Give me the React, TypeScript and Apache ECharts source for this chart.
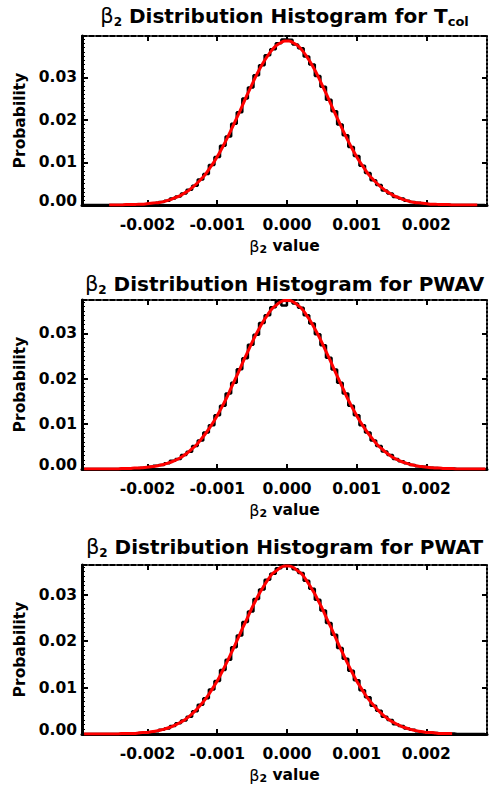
import React, { useEffect, useRef } from 'react';
import * as echarts from 'echarts';

// ---- data (probabilities stored in units of 1e-4) ----
const histStart = -0.00292; // centre of the first histogram bin
const histWidth = 0.00008;
const fitStep = 0.00006;
const xMin = -0.00294;
const xMax = 0.00287;
const xTickValues = [-0.002, -0.001, 0, 0.001, 0.002];
const yTickValues = [0, 0.01, 0.02, 0.03];
const probScale = 0.0001;

const panelNames = ['T', 'PWAV', 'PWAT'];
const panelSubs = ['col', '', ''];
const yMaxes = [0.0397, 0.0374, 0.0364];

const histTcol = [
  0, 0, 0, 0, 0, 0, 0,
  0, 1, 1, 2, 2, 4, 5, 7, 10, 15, 20, 27, 36, 45, 60, 73, 94, 113, 139, 161, 191, 218, 250, 276, 305, 328, 352, 366, 380, 389,
  388, 377, 368, 349, 330, 303, 278, 247, 220, 189, 164, 136, 115, 92, 75, 58, 47, 34, 27, 19, 15, 10, 7, 5, 3, 2, 2, 1, 1, 0,
  0, 0, 0, 0, 0, 0,
];
const fitTcolStart = -0.00255;
const fitTcol = [
  0, 0, 0, 0,
  1, 1, 1, 2, 2, 3, 4, 5, 6, 8, 11, 14, 18, 22, 28, 34, 42, 51, 61, 72, 86, 100, 116, 134, 153, 173, 194, 215, 237, 259, 280, 301, 320, 337, 352, 365, 375, 381, 385,
  385, 381, 375, 365, 352, 337, 320, 301, 280, 259, 237, 215, 194, 173, 153, 134, 116, 100, 86, 72, 61, 51, 42, 34, 28, 22, 18, 14, 11, 8, 6, 5, 4, 3, 2, 2, 1, 1, 1, 0,
  0, 0, 0, 0, 0, 0,
];

const histPWAV = [
  0, 0, 0, 0, 0, 0, 0,
  1, 1, 1, 2, 3, 5, 7, 9, 13, 18, 22, 31, 38, 51, 63, 81, 97, 119, 140, 167, 191, 221, 245, 275, 297, 323, 340, 358, 371, 362,
  373, 366, 357, 340, 322, 298, 274, 246, 220, 191, 167, 140, 119, 97, 81, 63, 51, 39, 31, 22, 17, 13, 9, 6, 5, 3, 2, 1, 1, 1,
  0, 0, 0, 0, 0, 0,
];
const fitPWAVStart = -0.00291;
const fitPWAV = [
  0, 0, 0, 0, 0, 0, 0, 0, 0,
  1, 1, 1, 2, 2, 3, 4, 5, 6, 8, 10, 13, 16, 20, 25, 31, 38, 46, 55, 66, 78, 91, 105, 121, 138, 156, 176, 196, 216, 237, 257, 277, 296, 313, 329, 343, 355, 363, 370, 373,
  373, 370, 363, 355, 343, 329, 313, 296, 277, 257, 237, 216, 196, 176, 156, 138, 121, 105, 91, 78, 66, 55, 46, 38, 31, 25, 20, 16, 13, 10, 8, 6, 5, 4, 3, 2, 2, 1, 1, 1,
  0, 0, 0, 0, 0, 0, 0, 0,
];

const histPWAT = [
  0, 0, 0, 0, 0, 0, 0,
  1, 1, 1, 2, 3, 4, 6, 9, 12, 17, 23, 29, 37, 49, 63, 77, 96, 114, 138, 160, 187, 212, 241, 264, 291, 311, 332, 345, 357, 362,
  363, 355, 347, 330, 313, 289, 266, 239, 214, 185, 162, 136, 116, 94, 79, 61, 50, 37, 30, 21, 17, 12, 9, 6, 4, 3, 2, 1, 1, 1,
  0, 0, 0, 0, 0, 0,
];
const fitPWATStart = -0.00291;
const fitPWAT = [
  0, 0, 0, 0, 0, 0, 0, 0, 0,
  1, 1, 1, 1, 2, 3, 3, 5, 6, 8, 10, 13, 16, 20, 25, 30, 37, 45, 54, 64, 75, 88, 102, 117, 134, 152, 171, 190, 210, 230, 249, 269, 287, 304, 319, 333, 345, 352, 359, 362,
  362, 359, 352, 345, 333, 319, 304, 287, 269, 249, 230, 210, 190, 171, 152, 134, 117, 102, 88, 75, 64, 54, 45, 37, 30, 25, 20, 16, 13, 10, 8, 6, 5, 3, 3, 2, 1, 1, 1, 1,
];

const histograms = [histTcol, histPWAV, histPWAT];
const fits = [fitTcol, fitPWAV, fitPWAT];
const fitStarts = [fitTcolStart, fitPWAVStart, fitPWATStart];

// ---- layout ----
const FONT = 'DejaVu Sans';
const gridLeft = 82;
const gridWidth = 405;
const gridHeight = 169;
const gridTops = [36, 300, 565];
const titleTops = [4, 272, 535];

function buildOption() {
  const grid: any[] = [];
  const xAxis: any[] = [];
  const yAxis: any[] = [];
  const series: any[] = [];
  const title: any[] = [];

  const labelStyle = { fontFamily: FONT, fontWeight: 'bold', fontSize: 15.5, color: '#000' };

  for (let k = 0; k < 3; k++) {
    const top = gridTops[k];
    grid.push({ left: gridLeft, top, width: gridWidth, height: gridHeight });

    const sub = panelSubs[k];
    title.push({
      text: '{b|β}{s|2}{t| Distribution Histogram for ' + panelNames[k] + '}' + (sub ? '{c|' + sub + '}' : ''),
      left: gridLeft + gridWidth / 2,
      top: titleTops[k],
      padding: 0,
      textAlign: 'center',
      textStyle: {
        rich: {
          b: { fontFamily: FONT, fontSize: 21, fontWeight: 'normal', color: '#000', lineHeight: 24 },
          s: { fontFamily: FONT, fontSize: 12, fontWeight: 'bold', color: '#000', lineHeight: 9, verticalAlign: 'bottom' },
          t: { fontFamily: FONT, fontSize: 20, fontWeight: 'bold', color: '#000', lineHeight: 24 },
          c: { fontFamily: FONT, fontSize: 13, fontWeight: 'bold', color: '#000', lineHeight: 9, verticalAlign: 'bottom' },
        },
      },
    });

    // bottom x axis
    xAxis.push({
      type: 'value', gridIndex: k, position: 'bottom', min: xMin, max: xMax,
      splitLine: { show: false },
      axisLine: { show: true, onZero: false, lineStyle: { color: '#000', width: 3 } },
      axisTick: { show: true, inside: true, length: 5, customValues: xTickValues, lineStyle: { color: '#000', width: 2 } },
      axisLabel: { ...labelStyle, customValues: xTickValues, margin: 12, formatter: (v: number) => v.toFixed(3) },
      name: '{b|β}{s|2}{n| value}',
      nameLocation: 'middle',
      nameGap: 32,
      nameTextStyle: {
        rich: {
          b: { fontFamily: FONT, fontSize: 16, fontWeight: 'normal', color: '#000', lineHeight: 18 },
          s: { fontFamily: FONT, fontSize: 11, fontWeight: 'bold', color: '#000', lineHeight: 7, verticalAlign: 'bottom' },
          n: { fontFamily: FONT, fontSize: 15.5, fontWeight: 'bold', color: '#000', lineHeight: 18 },
        },
      },
    });
    // top x axis (frame)
    xAxis.push({
      type: 'value', gridIndex: k, position: 'top', min: xMin, max: xMax,
      splitLine: { show: false },
      axisLine: { show: true, onZero: false, lineStyle: { color: '#000', width: 2, type: [5, 2] } },
      axisTick: { show: true, inside: true, length: 5, customValues: xTickValues, lineStyle: { color: '#000', width: 2 } },
      axisLabel: { show: false },
    });
    // left y axis
    yAxis.push({
      type: 'value', gridIndex: k, position: 'left', min: 0, max: yMaxes[k], interval: 0.01,
      splitLine: { show: false },
      axisLine: { show: true, onZero: false, lineStyle: { color: '#000', width: 3 } },
      axisTick: { show: true, inside: true, length: 6, customValues: yTickValues, lineStyle: { color: '#000', width: 2 } },
      minorTick: { show: true, splitNumber: 10, length: 3, lineStyle: { color: '#000', width: 1 } },
      axisLabel: {
        ...labelStyle,
        customValues: yTickValues,
        margin: 5,
        formatter: (v: number) => (v === 0 ? '{z|0.00}' : v.toFixed(2)),
        rich: { z: { ...labelStyle, padding: [0, 0, 8, 0] } },
      },
      name: 'Probability',
      nameLocation: 'middle',
      nameGap: 53,
      nameTextStyle: { ...labelStyle },
    });
    // right y axis (frame)
    yAxis.push({
      type: 'value', gridIndex: k, position: 'right', min: 0, max: yMaxes[k], interval: 0.01,
      splitLine: { show: false },
      axisLine: { show: true, onZero: false, lineStyle: { color: '#000', width: 2, type: [2, 2] } },
      axisTick: { show: true, inside: true, length: 5, customValues: yTickValues, lineStyle: { color: '#000', width: 2 } },
      axisLabel: { show: false },
    });

    series.push({
      type: 'line', xAxisIndex: 2 * k, yAxisIndex: 2 * k, step: 'middle',
      data: histograms[k].map((v, i) => [histStart + i * histWidth, v * probScale]),
      symbol: 'none', lineStyle: { color: '#000', width: 2.5 }, z: 2,
    });
    series.push({
      type: 'line', xAxisIndex: 2 * k, yAxisIndex: 2 * k, smooth: 0.4,
      data: fits[k].map((v, i) => [fitStarts[k] + i * fitStep, v * probScale]),
      symbol: 'none', lineStyle: { color: '#ff0000', width: 3 }, z: 3,
    });
  }

  return { animation: false, backgroundColor: '#fff', title, grid, xAxis, yAxis, series };
}

export default function App() {
  const ref = useRef<HTMLDivElement>(null);
  useEffect(() => {
    document.body.style.margin = '0';
    const chart = echarts.init(ref.current as HTMLDivElement, null, { renderer: 'svg' });
    chart.setOption(buildOption() as any);
    return () => chart.dispose();
  }, []);
  return <div ref={ref} style={{ width: 489, height: 785 }} />;
}
